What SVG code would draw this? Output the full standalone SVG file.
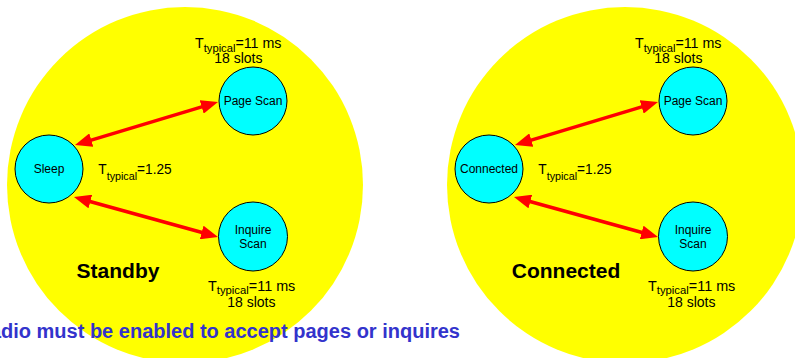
<svg xmlns="http://www.w3.org/2000/svg" width="795" height="358" viewBox="0 0 795 358">
<style>
.big{fill:#FFFF00;stroke:none}
.node{fill:#00FFFF;stroke:#000;stroke-width:1}
.nl{font-family:"Liberation Sans",Arial,sans-serif;font-size:12px;fill:#000;text-anchor:middle}
.lb{font-family:"Liberation Sans",Arial,sans-serif;font-size:14px;fill:#000}
.sub{font-size:11px}
.mid{text-anchor:middle}
.title{font-family:"Liberation Sans",Arial,sans-serif;font-size:21px;font-weight:bold;fill:#000;text-anchor:middle}
.note{font-family:"Liberation Sans",Arial,sans-serif;font-size:20px;font-weight:bold;fill:#3333CC;text-anchor:end}
.arr{stroke:#FF0000;stroke-width:3.5;fill:none;marker-start:url(#ah);marker-end:url(#ah)}
</style>
<defs>
<marker id="ah" markerUnits="userSpaceOnUse" markerWidth="17" markerHeight="14" refX="7" refY="7" orient="auto-start-reverse" viewBox="0 0 17 14">
<path d="M0,0 L17,7 L0,14 z" fill="#FF0000"/>
</marker>
</defs>
<g id="standby-area">
<circle class="big" cx="185" cy="185" r="178"/>
<text class="title" x="118" y="278">Standby</text>
</g>
<g id="connected-area">
<circle class="big" cx="625" cy="185" r="178"/>
<text class="title" x="566" y="278">Connected</text>
</g>
<g id="connectors">
<line class="arr" x1="84.6" y1="142.1" x2="208.4" y2="104.9"/>
<line class="arr" x1="83.6" y1="199.7" x2="208.4" y2="234.3"/>
<line class="arr" x1="524.6" y1="142.1" x2="648.4" y2="104.9"/>
<line class="arr" x1="523.6" y1="199.7" x2="648.4" y2="234.3"/>
</g>
<g id="sleep">
<circle class="node" cx="49" cy="169" r="34"/>
<text class="nl" x="49" y="173">Sleep</text>
</g>
<g id="page-scan-1">
<circle class="node" cx="253" cy="101" r="34"/>
<text class="nl" x="253" y="105">Page Scan</text>
</g>
<g id="inquire-scan-1">
<circle class="node" cx="253" cy="236.5" r="34.5"/>
<text class="nl" x="253" y="234">Inquire</text>
<text class="nl" x="253" y="247.5">Scan</text>
</g>
<g id="connected">
<circle class="node" cx="489" cy="169" r="34"/>
<text class="nl" x="489" y="173">Connected</text>
</g>
<g id="page-scan-2">
<circle class="node" cx="693" cy="101" r="34"/>
<text class="nl" x="693" y="105">Page Scan</text>
</g>
<g id="inquire-scan-2">
<circle class="node" cx="693" cy="236.5" r="34.5"/>
<text class="nl" x="693" y="234">Inquire</text>
<text class="nl" x="693" y="247.5">Scan</text>
</g>
<g id="labels">
<text class="lb" x="195" y="48" textLength="86.5" lengthAdjust="spacingAndGlyphs">T<tspan class="sub" dy="3.5">typical</tspan><tspan dy="-3.5">=11 ms</tspan></text>
<text class="lb mid" x="238.3" y="63.3">18 slots</text>
<text class="lb" x="98.3" y="173.5" textLength="73.4" lengthAdjust="spacingAndGlyphs">T<tspan class="sub" dy="6">typical</tspan><tspan dy="-6">=1.25</tspan></text>
<text class="lb" x="208" y="290.7" textLength="87.3" lengthAdjust="spacingAndGlyphs">T<tspan class="sub" dy="3.5">typical</tspan><tspan dy="-3.5">=11 ms</tspan></text>
<text class="lb mid" x="251.3" y="306.7">18 slots</text>
<text class="lb" x="635" y="48" textLength="86.5" lengthAdjust="spacingAndGlyphs">T<tspan class="sub" dy="3.5">typical</tspan><tspan dy="-3.5">=11 ms</tspan></text>
<text class="lb mid" x="678.3" y="63.3">18 slots</text>
<text class="lb" x="538.3" y="173.5" textLength="73.4" lengthAdjust="spacingAndGlyphs">T<tspan class="sub" dy="6">typical</tspan><tspan dy="-6">=1.25</tspan></text>
<text class="lb" x="648" y="290.7" textLength="87.3" lengthAdjust="spacingAndGlyphs">T<tspan class="sub" dy="3.5">typical</tspan><tspan dy="-3.5">=11 ms</tspan></text>
<text class="lb mid" x="691.3" y="306.7">18 slots</text>
</g>
<text class="note" x="460" y="338">Radio must be enabled to accept pages or inquires</text>
</svg>
